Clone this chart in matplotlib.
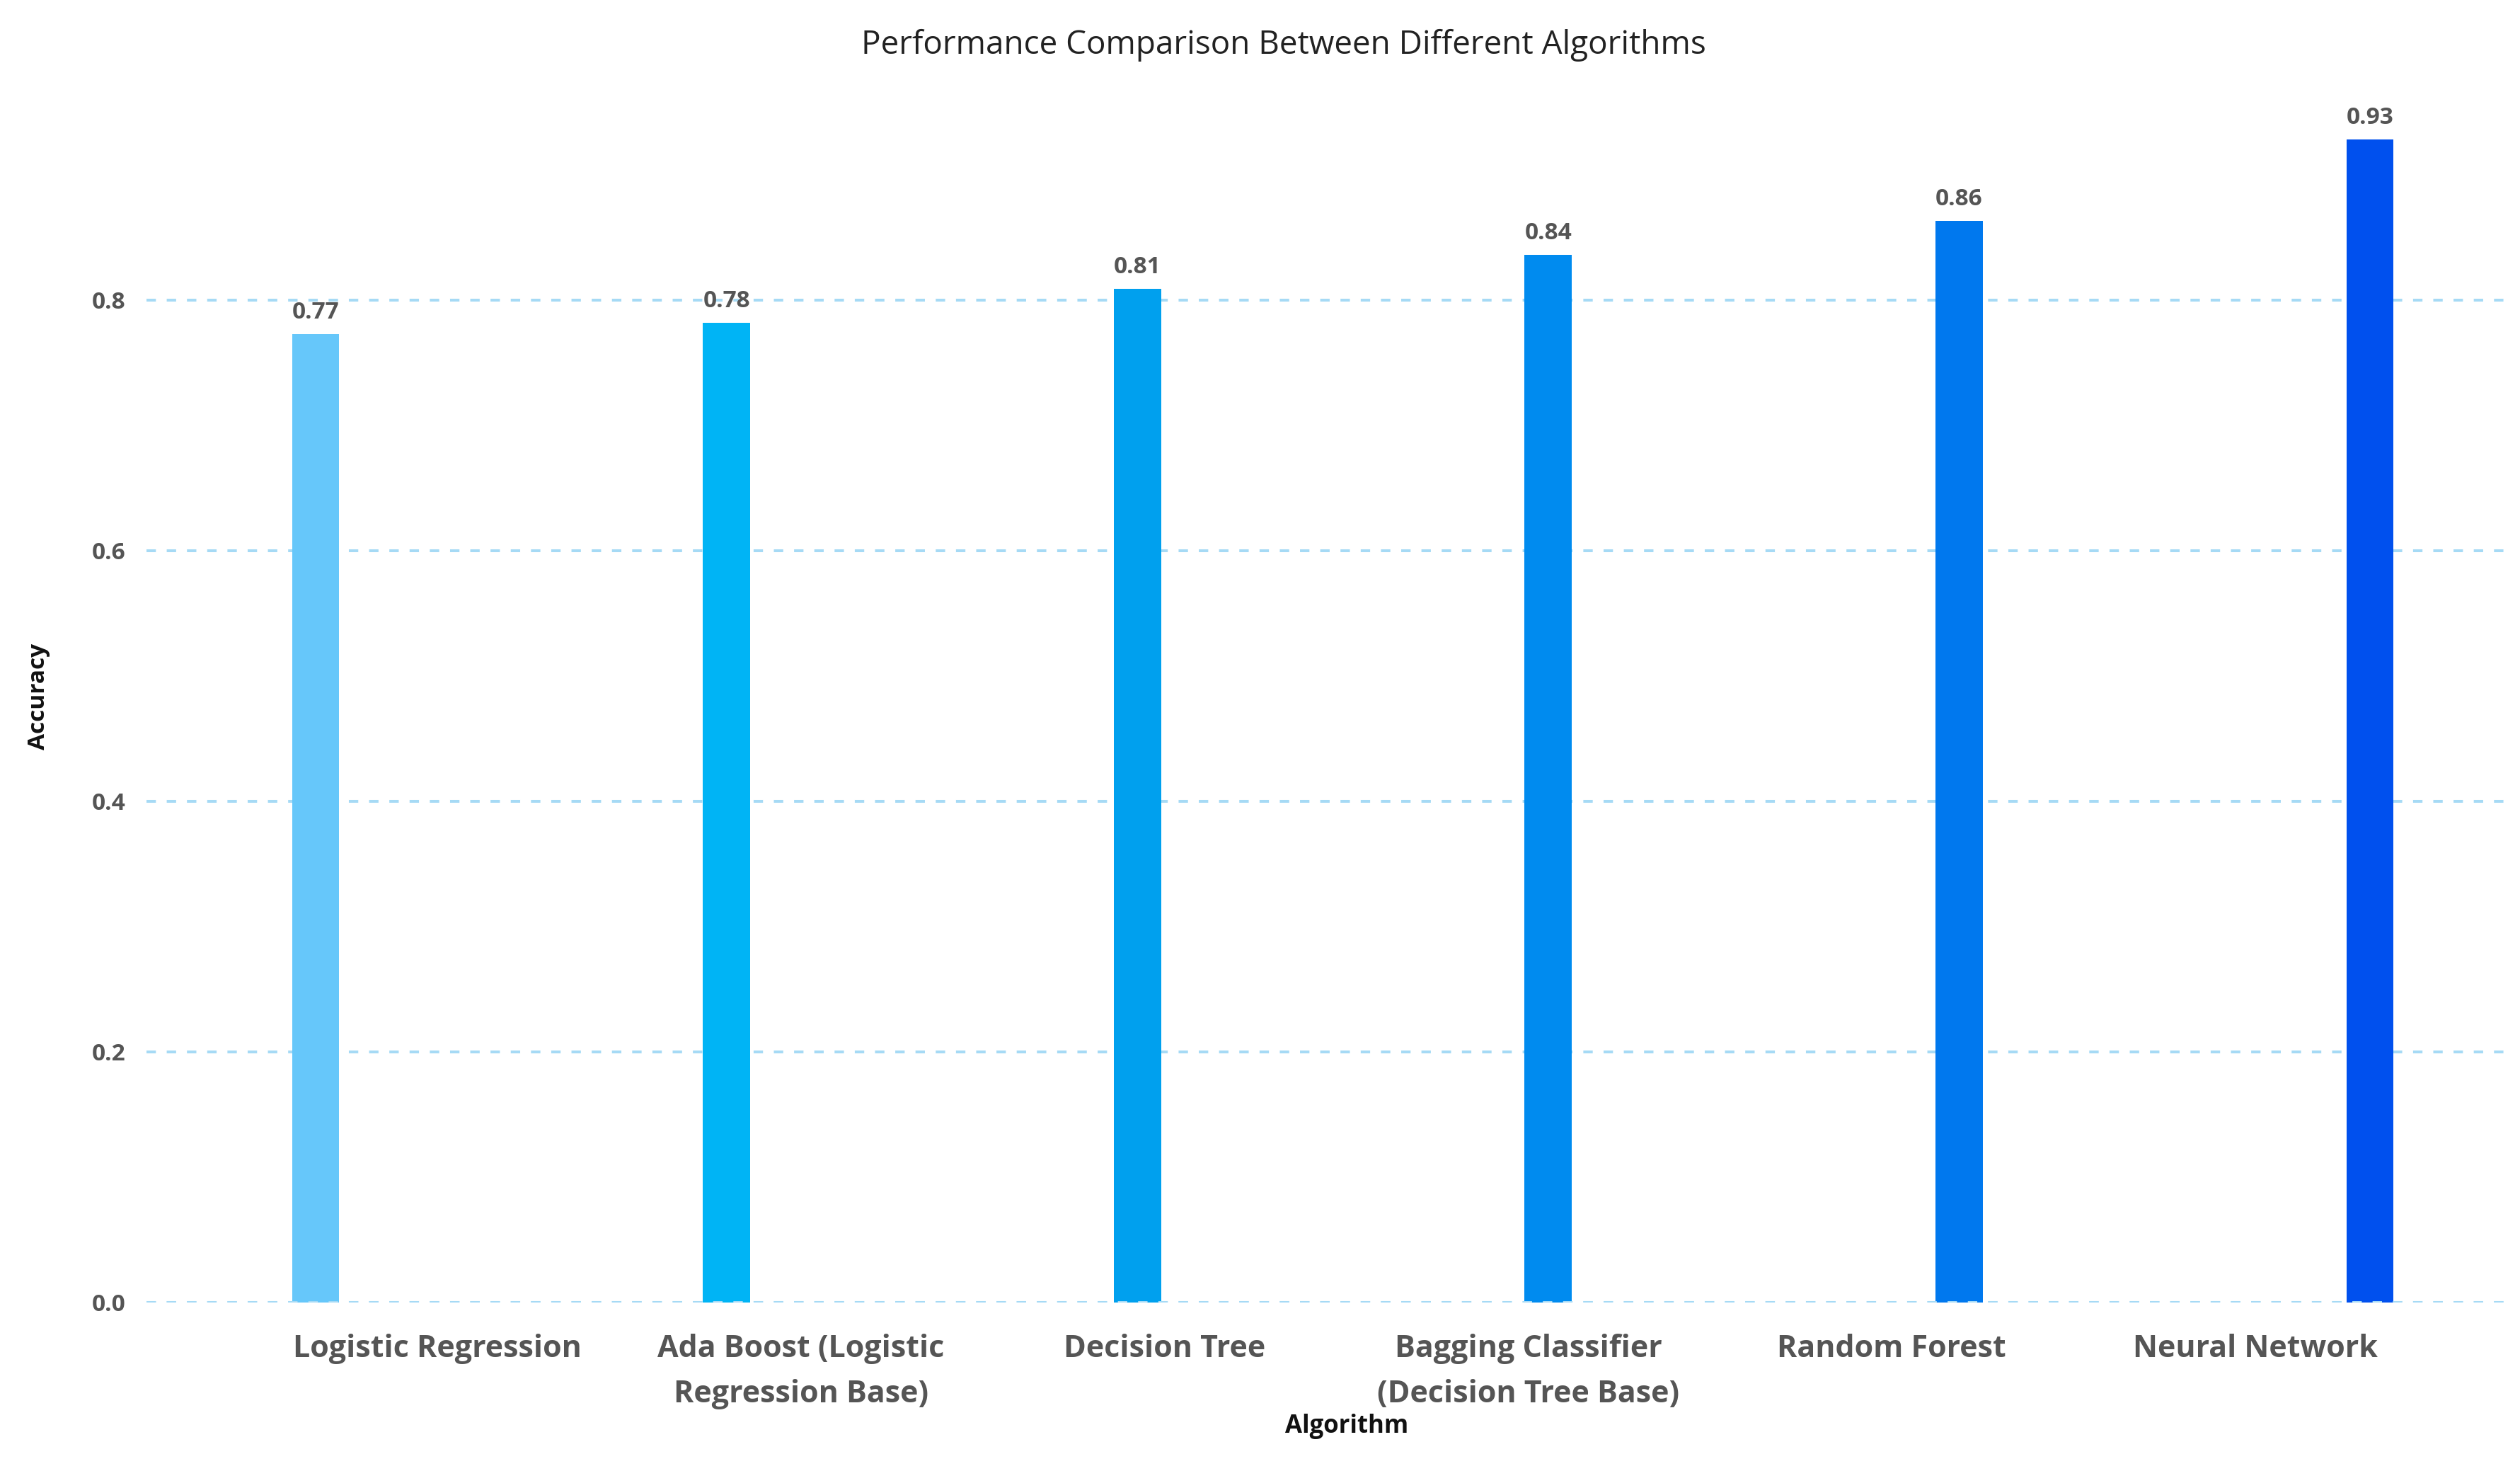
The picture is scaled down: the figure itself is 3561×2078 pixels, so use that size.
import matplotlib
matplotlib.use("Agg")
import matplotlib.pyplot as plt

algorithms = ["Logistic Regression", "Ada Boost (Logistic\nRegression Base)", "Decision Tree",
              "Bagging Classifier\n(Decision Tree Base)", "Random Forest", "Neural Network"]
accuracy = [0.773, 0.782, 0.809, 0.836, 0.863, 0.928]
value_labels = ["0.77", "0.78", "0.81", "0.84", "0.86", "0.93"]
bar_colors = ["#66C7FA", "#00B4F5", "#00A0EE", "#008BEF", "#0078EE", "#0050EE"]
y_ticks = [0.0, 0.2, 0.4, 0.6, 0.8]

plt.rcParams['font.family'] = ['Open Sans', 'DejaVu Sans']

W, H = 3562, 2078
fig = plt.figure(figsize=(W / 100, H / 100), dpi=100)
left, right, bottom, top = 207 / W, 3540 / W, 1 - 1840 / H, 1 - 158.5 / H
ax = fig.add_axes([left, bottom, right - left, top - bottom])

x = list(range(len(accuracy)))
ax.bar(x, accuracy, width=0.115, color=bar_colors, zorder=2)
ax.set_xlim(-0.4116, 5.329)
ax.set_ylim(0, 0.95)

for xi, v, lab in zip(x, accuracy, value_labels):
    ax.annotate(lab, (xi, v), xytext=(0, 14), textcoords='offset pixels',
                ha='center', va='bottom', fontsize=24, fontweight='bold', color='#555555')

ax.set_yticks(y_ticks)
ax.set_yticklabels([f"{t:.1f}" for t in y_ticks])
ax.tick_params(axis='y', length=0, pad=21, labelsize=24, labelcolor='#555555')
for lbl in ax.get_yticklabels():
    lbl.set_fontweight('bold')
ax.set_xticks([])
ax.yaxis.grid(True, color='#A6DAF5', linewidth=2.9, linestyle=(0, (3.3, 3.8)), zorder=0)
ax.set_axisbelow(True)
for s in ax.spines.values():
    s.set_visible(False)
# zero line drawn over the bar bottoms, as in the reference
ax.axhline(0, color='#A6DAF5', linewidth=2.9, linestyle=(0, (3.3, 3.8)), zorder=3)

ax2 = ax.twiny()
ax2.set_xlim(-0.800, 5.687)
ax2.xaxis.set_ticks_position('bottom')
ax2.xaxis.set_label_position('bottom')
ax2.set_xticks(range(len(algorithms)))
ax2.set_xticklabels(algorithms, fontsize=31, fontweight='bold', color='#555555', linespacing=1.62)
ax2.tick_params(axis='x', length=0, pad=32)
for s in ax2.spines.values():
    s.set_visible(False)

fig.text(1814 / W, 1 - 64 / H, "Performance Comparison Between Different Algorithms",
         ha='center', va='center', fontsize=33, color='#222222')
fig.text(55 / W, 1 - 984 / H, "Accuracy", rotation=90, ha='center', va='center',
         fontsize=24, fontweight='bold', color='#111111')
fig.text(1903 / W, 1 - 2015 / H, "Algorithm", ha='center', va='center',
         fontsize=25, fontweight='bold', color='#111111')

fig.savefig("out.png", dpi=100, facecolor='white')
